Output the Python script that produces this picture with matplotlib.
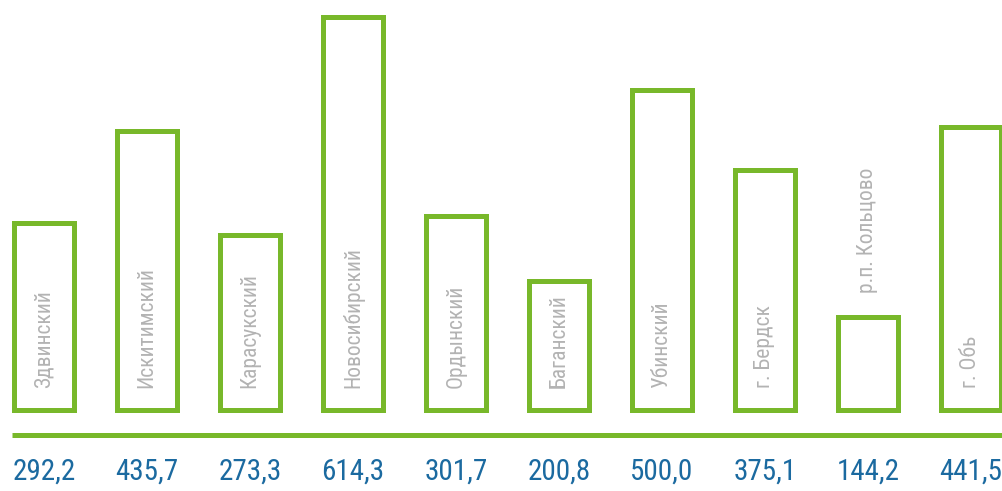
import matplotlib
matplotlib.use("Agg")
import matplotlib.pyplot as plt
from matplotlib import font_manager as fm
from matplotlib.lines import Line2D

categories = ["Здвинский", "Искитимский", "Карасукский", "Новосибирский", "Ордынский",
              "Баганский", "Убинский", "г. Бердск", "р.п. Кольцово", "г. Обь"]
values = [292.2, 435.7, 273.3, 614.3, 301.7, 200.8, 500.0, 375.1, 144.2, 441.5]
value_labels = ["292,2", "435,7", "273,3", "614,3", "301,7", "200,8", "500,0", "375,1", "144,2", "441,5"]

names = {f.name for f in fm.fontManager.ttflist}
font = "DejaVu Sans"
stretch = "normal"
for cand in ["Liberation Sans Narrow", "Roboto Condensed", "Open Sans Condensed", "DejaVu Sans Condensed"]:
    if cand in names:
        font = cand
        break
else:
    stretch = "condensed"

GREEN = "#78b82a"
BLUE = "#1b6aa0"
GREY = "#b3b3b3"

fig = plt.figure(figsize=(10.03, 4.91), dpi=100)
ax = fig.add_axes([0, 0, 1, 1])
ax.set_axis_off()

px_per_unit = 393 / 614.3
base_px = 409.5
ax.set_xlim(-44 / 103, (1003 - 44) / 103)
ax.set_ylim(-(491 - base_px) / px_per_unit, base_px / px_per_unit)

x = list(range(len(values)))
ax.bar(x, values, width=0.592, facecolor="white", edgecolor=GREEN, linewidth=3.6,
       joinstyle="miter", clip_on=False)

# baseline rule
fig.add_artist(Line2D([12 / 1003, 1.0], [1 - 434.5 / 491] * 2, color=GREEN, lw=3.6,
                      solid_capstyle="butt"))

lbl_size = 15.5
for xi, v, c, vl in zip(x, values, categories, value_labels):
    # estimate label length in data units to decide placement
    t = ax.text(xi, 0, c, rotation=90, ha="center", va="bottom", color=GREY,
                fontsize=lbl_size, family=font, fontstretch=stretch)
    t.set_transform(ax.transData)
    from matplotlib.transforms import offset_copy
    fig.canvas.draw() if False else None
    est_len_px = len(c) * 0.46 * lbl_size / 0.72
    if est_len_px + 30 > v * px_per_unit:
        t.set_y(v)
        t.set_transform(offset_copy(ax.transData, fig=fig, y=24, units="dots"))
    else:
        t.set_transform(offset_copy(ax.transData, fig=fig, y=21, units="dots"))
    ax.annotate(vl, (xi, 0), xytext=(0, -(472 - base_px) * 0.72), textcoords="offset points",
                ha="center", va="center", color=BLUE, fontsize=21, family=font,
                fontstretch=stretch)

fig.savefig("out.png", dpi=100)
